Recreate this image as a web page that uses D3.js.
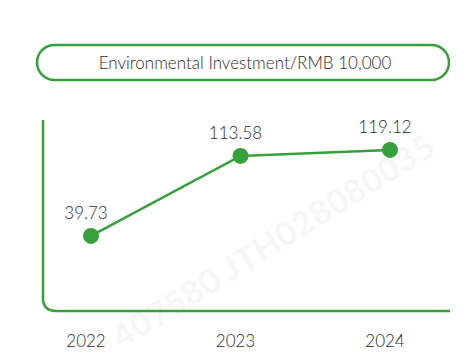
<!DOCTYPE html>
<html>
<head>
<meta charset="utf-8">
<script src="https://cdn.jsdelivr.net/npm/d3@7"></script>
<style>
  html, body { margin: 0; padding: 0; background: #fff; }
  svg { display: block; font-family: Lato, "Noto Sans", sans-serif; }
</style>
</head>
<body>
<div id="chart"></div>
<script>
const years = ["2022", "2023", "2024"];
const values = [39.73, 113.58, 119.12];
const title = "Environmental Investment/RMB 10,000";
const watermark = "407580  JTH028080035";

const width = 472, height = 364;
const green = "#36a03a";

const svg = d3.select("#chart").append("svg")
    .attr("width", width)
    .attr("height", height);

// faint watermark behind everything
svg.append("text")
    .attr("transform", "translate(122,350) rotate(-32)")
    .attr("font-size", 33)
    .attr("font-weight", "bold")
    .attr("fill", "#f6f6f6")
    .attr("letter-spacing", 1)
    .text(watermark);

// title pill
svg.append("rect")
    .attr("x", 37).attr("y", 45)
    .attr("width", 412).attr("height", 35)
    .attr("rx", 17.5)
    .attr("fill", "none")
    .attr("stroke", green)
    .attr("stroke-width", 2.5);

svg.append("text")
    .attr("x", 245).attr("y", 69)
    .attr("text-anchor", "middle")
    .attr("font-size", 17)
    .attr("font-weight", 300)
    .attr("fill", "#2a2a2a")
    .text(title);

const x = d3.scalePoint()
    .domain(years)
    .range([91, 390]);

const y = d3.scaleLinear()
    .domain([0, 150])
    .range([279, 116.5]);

// axis frame: vertical + horizontal with rounded corner
const x0 = 43, yTop = 120, yBase = 311, xEnd = 450, r = 13;
svg.append("path")
    .attr("d", `M${x0},${yTop} V${yBase - r} Q${x0},${yBase} ${x0 + r},${yBase} H${xEnd}`)
    .attr("fill", "none")
    .attr("stroke", green)
    .attr("stroke-width", 2.5);

// x labels
svg.selectAll(".xlab")
    .data(years)
    .join("text")
    .attr("class", "xlab")
    .attr("x", d => x(d) - 5)
    .attr("y", 347)
    .attr("text-anchor", "middle")
    .attr("font-size", 17)
    .attr("font-weight", 300)
    .attr("fill", "#2a2a2a")
    .text(d => d);

const data = years.map((yr, i) => ({ year: yr, value: values[i] }));

svg.append("path")
    .datum(data)
    .attr("fill", "none")
    .attr("stroke", green)
    .attr("stroke-width", 2.5)
    .attr("d", d3.line().x(d => x(d.year)).y(d => y(d.value)));

svg.selectAll(".dot")
    .data(data)
    .join("circle")
    .attr("class", "dot")
    .attr("cx", d => x(d.year))
    .attr("cy", d => y(d.value))
    .attr("r", 8)
    .attr("fill", green);

svg.selectAll(".vlab")
    .data(data)
    .join("text")
    .attr("class", "vlab")
    .attr("x", d => x(d.year) - 5)
    .attr("y", d => y(d.value) - 17)
    .attr("text-anchor", "middle")
    .attr("font-size", 17)
    .attr("font-weight", 300)
    .attr("fill", "#2a2a2a")
    .text(d => d.value.toFixed(2));
</script>
</body>
</html>
